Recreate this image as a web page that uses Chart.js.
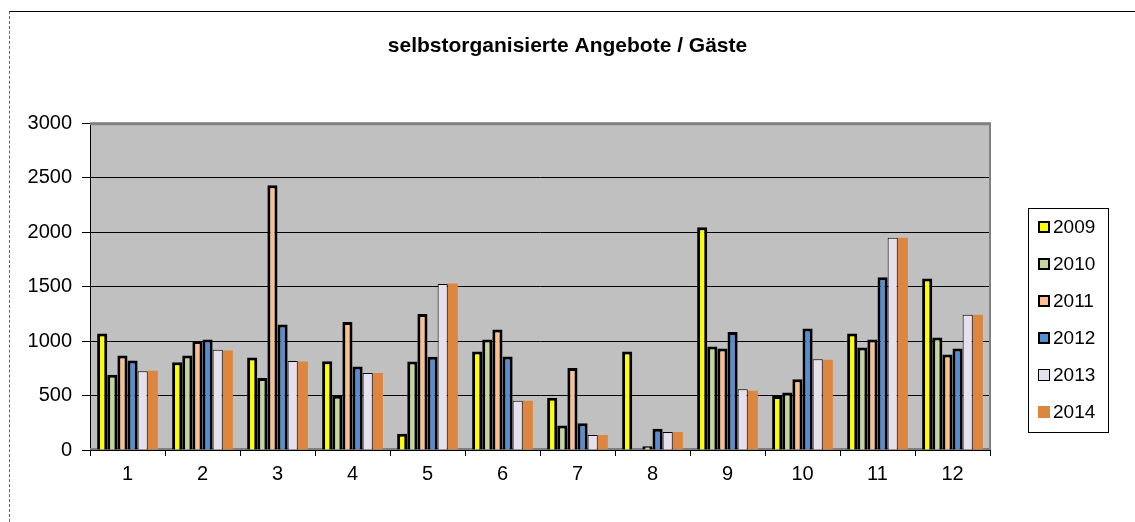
<!DOCTYPE html>
<html>
<head>
<meta charset="utf-8">
<title>selbstorganisierte Angebote / Gäste</title>
<script src="https://cdn.jsdelivr.net/npm/chart.js@4/dist/chart.umd.min.js"></script>
<style>
  body { margin: 0; background: #fff; }
  #wrap { position: relative; width: 1135px; height: 522px; }
  #frame { position: absolute; left: 9px; top: 11px; right: 0; bottom: 0;
           border-top: 1px solid #000; border-left: 1px dashed #666; pointer-events: none; }
</style>
</head>
<body>
<div id="wrap">
  <canvas id="chart" width="1135" height="522"></canvas>
  <div id="frame"></div>
</div>
<script>
// months (x axis)
const months = ['1', '2', '3', '4', '5', '6', '7', '8', '9', '10', '11', '12'];

// guests per year
const y2009 = [1070, 805, 850, 815, 150, 905, 480, 905, 2045, 495, 1070, 1575];
const y2010 = [690, 868, 660, 497, 813, 1015, 224, 0, 950, 527, 940, 1033];
const y2011 = [868, 1000, 2430, 1175, 1248, 1107, 752, 35, 932, 650, 1015, 877];
const y2012 = [822, 1015, 1153, 767, 856, 858, 245, 196, 1083, 1116, 1586, 932];
const y2013 = [724, 920, 816, 706, 1525, 451, 138, 166, 558, 834, 1948, 1242];
const y2014 = [728, 914, 813, 708, 1528, 451, 138, 166, 543, 828, 1948, 1242];

const yTicks = { min: 0, max: 3000, step: 500 };
const chartTitle = 'selbstorganisierte Angebote / Gäste';
const FONT = '"Liberation Sans", Arial, sans-serif';

// grey plot area with excel-like frame
const plotArea = {
  id: 'plotArea',
  afterLayout(chart) {
    // excel centres the title over the whole chart, not the padded area
    if (chart.titleBlock) {
      chart.titleBlock.left = 0;
      chart.titleBlock.right = chart.width;
    }
  },
  beforeDraw(chart) {
    const { ctx, chartArea: a } = chart;
    ctx.save();
    ctx.fillStyle = '#C0C0C0';
    ctx.fillRect(a.left, a.top, a.right - a.left, a.bottom - a.top);
    ctx.restore();
  },
  beforeDatasetsDraw(chart) {
    const { ctx, chartArea: a } = chart;
    ctx.save();
    ctx.fillStyle = '#808080';
    ctx.fillRect(a.left, a.top - 1, a.right - a.left + 1, 3);
    ctx.fillRect(a.right - 1, a.top, 2, a.bottom - a.top);
    ctx.fillRect(a.left, a.bottom - 2, a.right - a.left, 2);
    ctx.restore();
  }
};

// boxed legend on the right, like the excel one
const boxLegend = {
  id: 'boxLegend',
  afterDraw(chart) {
    const { ctx, chartArea: a } = chart;
    const sets = chart.data.datasets;
    const x0 = a.right + 38, y0 = 208, w = 80, h = 224, step = 37;
    ctx.save();
    ctx.strokeStyle = '#000';
    ctx.lineWidth = 1;
    ctx.strokeRect(x0 + 0.5, y0 + 0.5, w, h);
    ctx.font = '19px ' + FONT;
    ctx.textBaseline = 'middle';
    sets.forEach((ds, i) => {
      const cy = y0 + 19 + i * step;
      const bw = Math.min(ds.borderWidth, 2);
      ctx.fillStyle = bw ? '#000' : ds.backgroundColor;
      ctx.fillRect(x0 + 10, cy - 6, 12, 12);
      ctx.fillStyle = ds.backgroundColor;
      ctx.fillRect(x0 + 10 + bw, cy - 6 + bw, 12 - 2 * bw, 12 - 2 * bw);
      ctx.fillStyle = '#000';
      ctx.fillText(ds.label, x0 + 25, cy + 1);
    });
    ctx.restore();
  }
};

const series = [
  { label: '2009', data: y2009, backgroundColor: '#FFFF00', borderWidth: 3 },
  { label: '2010', data: y2010, backgroundColor: '#C3D69B', borderWidth: 3 },
  { label: '2011', data: y2011, backgroundColor: '#FAC090', borderWidth: 3 },
  { label: '2012', data: y2012, backgroundColor: '#558ED5', borderWidth: 3 },
  { label: '2013', data: y2013, backgroundColor: '#E6E0EC', borderWidth: 1 },
  { label: '2014', data: y2014, backgroundColor: '#DD8640', borderWidth: 0 }
];

new Chart(document.getElementById('chart').getContext('2d'), {
  type: 'bar',
  data: {
    labels: months,
    datasets: series.map(s => Object.assign({ borderColor: '#000' }, s))
  },
  options: {
    responsive: false,
    animation: false,
    layout: { padding: { left: 28, right: 145, top: 0, bottom: 30 } },
    datasets: { bar: { categoryPercentage: 0.81, barPercentage: 1.0 } },
    plugins: {
      legend: { display: false },
      tooltip: { enabled: false },
      title: {
        display: true,
        text: chartTitle,
        color: '#000',
        font: { family: FONT, size: 21, weight: 'bold' },
        padding: { top: 34, bottom: 64 }
      }
    },
    scales: {
      x: {
        grid: { offset: true, drawOnChartArea: false, tickLength: 6, color: '#000' },
        border: { color: '#000', width: 1 },
        ticks: { color: '#000', padding: 6, font: { family: FONT, size: 20 } }
      },
      y: {
        min: yTicks.min,
        max: yTicks.max,
        afterFit(scale) { scale.width = 62; },
        grid: { color: '#000', lineWidth: 1, tickLength: 8, tickColor: '#000' },
        border: { color: '#000', width: 1 },
        ticks: {
          stepSize: yTicks.step,
          color: '#000',
          padding: 10,
          font: { family: FONT, size: 20 },
          callback: v => String(v)
        }
      }
    }
  },
  plugins: [plotArea, boxLegend]
});
</script>
</body>
</html>
